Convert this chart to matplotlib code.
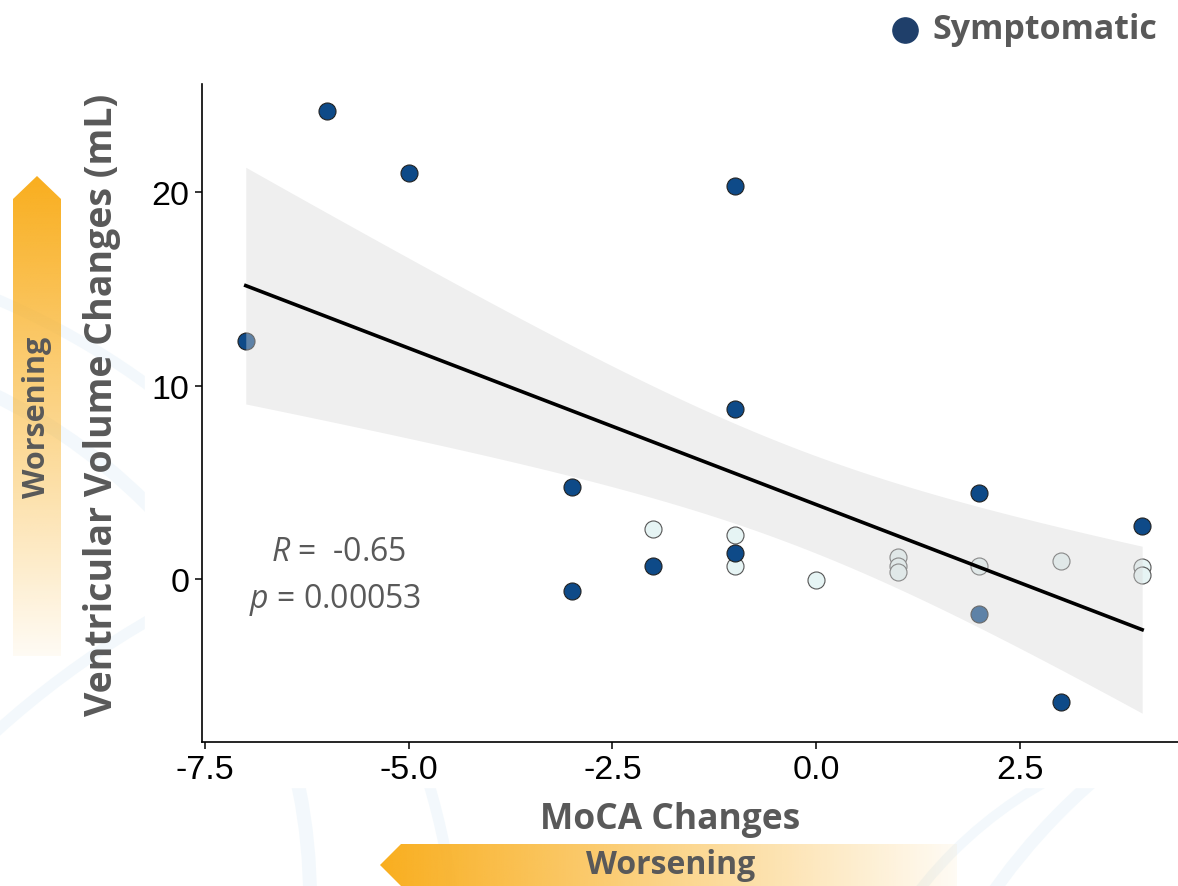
import numpy as np
import matplotlib
matplotlib.use("Agg")
import matplotlib.pyplot as plt
from matplotlib.patches import Polygon, Rectangle, Arc

plt.rcParams['mathtext.fontset'] = 'custom'
plt.rcParams['mathtext.it'] = 'Open Sans:italic'
plt.rcParams['mathtext.rm'] = 'Open Sans'

# data
moca_sym = [-6, -5, -1, -7, -1, -3, 2, 4, -1, -2, -3, 3, 2]
vent_sym = [24.2, 21.0, 20.3, 12.3, 8.8, 4.75, 4.45, 2.75, 1.35, 0.7, -0.6, -6.35, -1.8]
moca_asym = [-2, -1, -1, 0, 1, 1, 1, 2, 3, 4, 4]
vent_asym = [2.6, 2.3, 0.7, -0.05, 1.15, 0.7, 0.35, 0.7, 0.95, 0.6, 0.2]
xticks = [-7.5, -5.0, -2.5, 0.0, 2.5]
yticks = [0, 10, 20]
stat_r = "-0.65"
stat_p = "0.00053"

W, H = 1178, 887
fig = plt.figure(figsize=(W / 100, H / 100), dpi=100)

# background layer in pixel coords
bg = fig.add_axes([0, 0, 1, 1], zorder=0)
bg.set_xlim(0, W)
bg.set_ylim(H, 0)
bg.axis("off")

# faint decorative swooshes
for (cx, cy, r, lw) in [(-250, 900, 560, 10), (-300, 1000, 760, 8), (1500, 1250, 620, 9),
                        (1250, 1150, 420, 7), (600, 1400, 900, 8)]:
    bg.add_patch(Arc((cx, cy), 2 * r, 2 * r, color="#eef6fb", lw=lw, alpha=0.7))
bg.add_patch(Rectangle((145, 62), W - 145, 726, color="white", zorder=1))


def grad_poly(pts, ext, vertical):
    poly = Polygon(pts, closed=True, facecolor="none", edgecolor="none")
    bg.add_patch(poly)
    n = 256
    t = np.linspace(0, 1, n)
    a = 1 - 0.95 * t
    img = np.ones((n, 1, 4)) if vertical else np.ones((1, n, 4))
    col = np.array([249, 174, 30]) / 255
    if vertical:
        img[:, 0, :3] = col
        img[:, 0, 3] = a
    else:
        img[0, :, :3] = col
        img[0, :, 3] = a
    im = bg.imshow(img, extent=ext, aspect="auto", zorder=2, interpolation="bilinear")
    im.set_clip_path(poly)


# vertical arrow (tip at top)
grad_poly([(13, 657), (13, 200), (37, 177), (61, 200), (61, 657)], (13, 61, 657, 177), True)
# horizontal arrow (tip at left)
grad_poly([(380, 866), (401, 845), (957, 845), (957, 887), (401, 887)], (380, 957, 887, 845), False)

bg.text(37, 417, "Worsening", rotation=90, ha="center", va="center", fontsize=22,
        fontweight="bold", family="Open Sans", color="#595959", zorder=3)
bg.text(671, 866, "Worsening", ha="center", va="center", fontsize=23,
        fontweight="bold", family="Open Sans", color="#595959", zorder=3)

# legend
bg.scatter([905], [31], s=330, color="#1f3f6a", zorder=3)
bg.text(932, 30, "Symptomatic", ha="left", va="center", fontsize=24.5,
        fontweight="bold", family="Open Sans", color="#595959", zorder=3)

# main plot
ax = fig.add_axes([202 / W, 1 - 743 / H, 1 - 202 / W, (743 - 85) / H], zorder=1)
ax.set_facecolor("white")

ax.scatter(moca_asym, vent_asym, s=150, color="#e6f4f4", edgecolor="#555555", linewidth=0.8, zorder=2)
ax.scatter(moca_sym, vent_sym, s=150, color="#0e4a88", edgecolor="#222222", linewidth=0.8, zorder=2)

x = np.array(moca_sym + moca_asym, dtype=float)
y = np.array(vent_sym + vent_asym, dtype=float)
n = len(x)
b, a0 = np.polyfit(x, y, 1)
res = y - (a0 + b * x)
s = np.sqrt(np.sum(res ** 2) / (n - 2))
xs = np.linspace(x.min(), x.max(), 100)
se = s * np.sqrt(1 / n + (xs - x.mean()) ** 2 / np.sum((x - x.mean()) ** 2))
tval = 2.074
fit = a0 + b * xs
ax.fill_between(xs, fit - tval * se, fit + tval * se, color="#d7d7d7", alpha=0.4, linewidth=0, zorder=3)
ax.plot(xs, fit, color="black", lw=2.6, zorder=4)

ax.text(-5.86, 1.4, r"$R$ =  " + stat_r, ha="center", va="center", fontsize=23,
        family="Open Sans", color="#595959", zorder=5)
ax.text(-5.9, -1.05, r"$p$ = " + stat_p, ha="center", va="center", fontsize=23,
        family="Open Sans", color="#595959", zorder=5)

ax.set_xlim(-7.537, 4.44)
ax.set_ylim(-8.42, 25.58)
ax.set_xticks(xticks)
ax.set_xticklabels([f"{v:.1f}" for v in xticks])
ax.set_yticks(yticks)
ax.tick_params(labelsize=24.5, length=5, width=1.1, pad=4, labelcolor="black")
for lab in ax.get_xticklabels() + ax.get_yticklabels():
    lab.set_family("Liberation Sans")
for side in ["top", "right"]:
    ax.spines[side].set_visible(False)
for side in ["left", "bottom"]:
    ax.spines[side].set_linewidth(1.2)

fig.text(102 / W, 1 - 405 / H, "Ventricular Volume Changes (mL)", rotation=90, ha="center", va="center",
         fontsize=27, fontweight="bold", family="Open Sans", color="#595959", zorder=5)
fig.text(670 / W, 1 - 820 / H, "MoCA Changes", ha="center", va="center",
         fontsize=25.5, fontweight="bold", family="Open Sans", color="#595959", zorder=5)

fig.savefig("out.png", dpi=100)
